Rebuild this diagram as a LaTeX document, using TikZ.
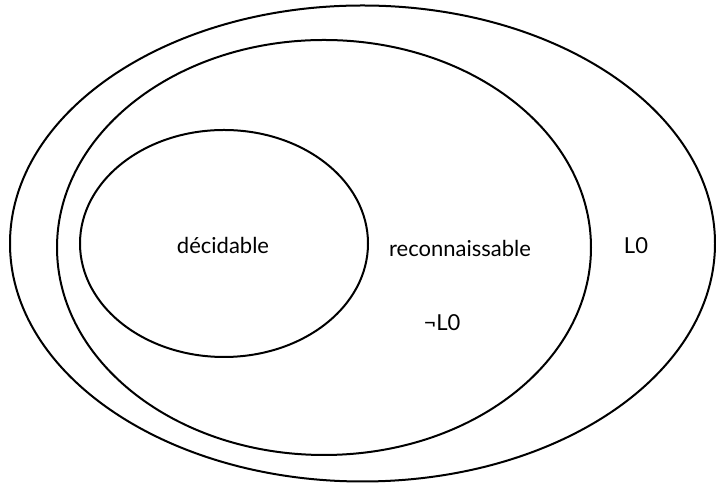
\documentclass[tikz,border=0pt]{standalone}
\usepackage{fontspec}
\setmainfont{Lato}
\usepackage{tikz}
\usetikzlibrary{positioning,shapes.geometric}

\tikzset{
  set/.style={draw, ellipse, line width=2pt, inner sep=0pt},
  lbl/.style={font=\fontsize{22}{25}\selectfont}
}

\begin{document}
\begin{tikzpicture}[x=1pt,y=1pt]
            \useasboundingbox (0,0) rectangle (716,486);
            \node[set, minimum width=705pt, minimum height=476pt] (L0set) at (362.5,242.5) {};
            \node[set, minimum width=534pt, minimum height=415pt] (recset) at (324,238.5) {};
            \node[set, minimum width=288pt, minimum height=227pt] (decset) at (224,242.5) {};

            \node[lbl] (dec) at (223,241) {décidable};
            \node[lbl] (rec) at (460,238) {reconnaissable};
            \node[lbl] (L0) at (636,240) {L0};
            \node[lbl] (nL0) at (442,163) {¬L0};
        \end{tikzpicture}
\end{document}
